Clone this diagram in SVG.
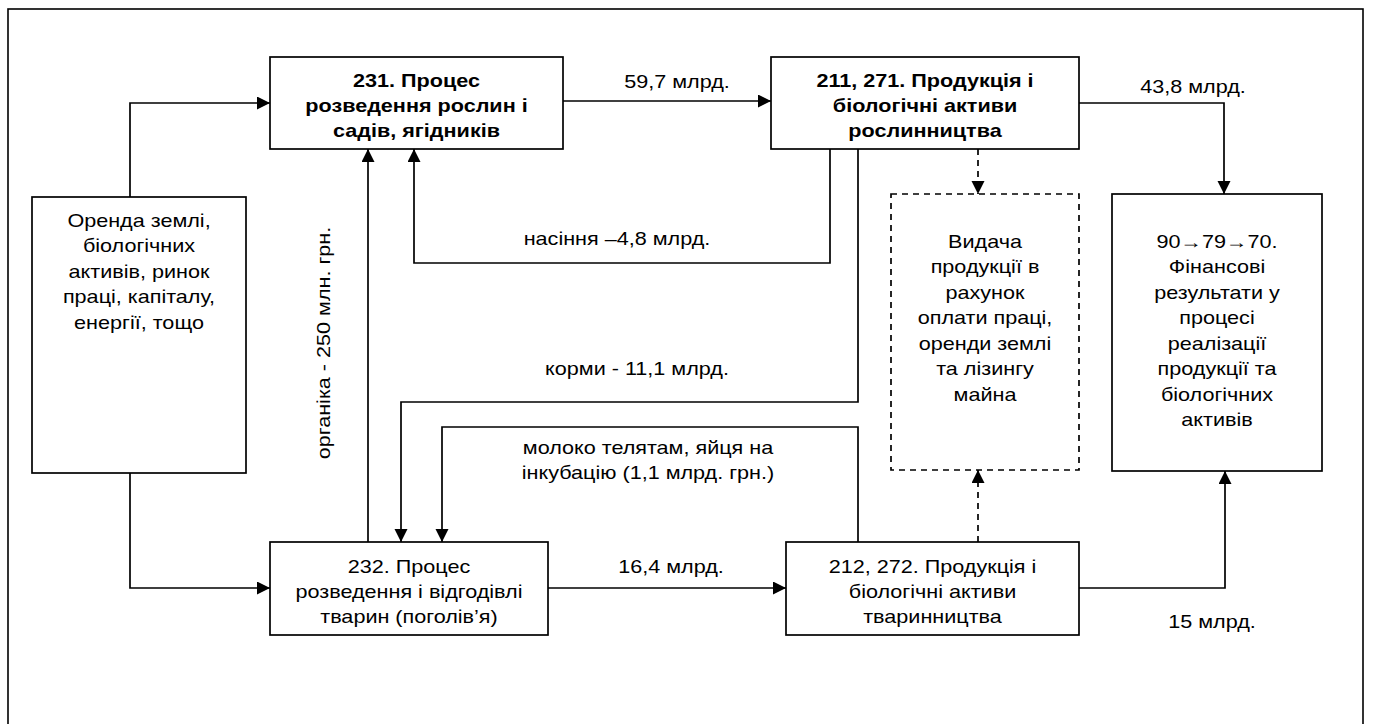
<svg xmlns="http://www.w3.org/2000/svg" width="1373" height="724" viewBox="0 0 1373 724">
<defs>
<style>
.box{fill:#fff;stroke:#000;stroke-width:1.7}
.dbox{fill:#fff;stroke:#000;stroke-width:1.7;stroke-dasharray:6 5}
.c{fill:none;stroke:#000;stroke-width:1.7}
.cd{fill:none;stroke:#000;stroke-width:1.7;stroke-dasharray:6 5}
.t{font-family:"Liberation Sans",Arial,sans-serif;font-size:18px;fill:#000;text-anchor:middle}
.b{font-weight:bold}
</style>
<marker id="ah" markerUnits="userSpaceOnUse" markerWidth="14" markerHeight="14" refX="13" refY="6.5" orient="auto" viewBox="0 0 14 14">
<path d="M0,0 L13,6.5 L0,13 z" fill="#000"/>
</marker>
</defs>
<rect x="0" y="0" width="1373" height="724" fill="#fff"/>
<rect x="8" y="9" width="1355" height="740" fill="none" stroke="#000" stroke-width="1.6"/>

<g id="connectors">
<path class="c" d="M130,197 V103 H270" marker-end="url(#ah)"/>
<path class="c" d="M130,473 V588 H270" marker-end="url(#ah)"/>
<path class="c" d="M563,101 H771" marker-end="url(#ah)"/>
<path class="c" d="M548,588 H786" marker-end="url(#ah)"/>
<path class="c" d="M1079,103 H1224 V194" marker-end="url(#ah)"/>
<path class="c" d="M1079,588 H1225 V471" marker-end="url(#ah)"/>
<path class="c" d="M830,149 V263 H414 V149" marker-end="url(#ah)"/>
<path class="c" d="M368,542 V149" marker-end="url(#ah)"/>
<path class="c" d="M858,149 V402 H401 V542" marker-end="url(#ah)"/>
<path class="c" d="M858,542 V427 H442 V542" marker-end="url(#ah)"/>
<path class="cd" d="M978,149 V194" marker-end="url(#ah)"/>
<path class="cd" d="M978,542 V470" marker-end="url(#ah)"/>
<text class="t" transform="matrix(1.2 0 0 1 677 0)"><tspan x="0" y="88">59,7 млрд.</tspan></text>
<text class="t" transform="matrix(1.2 0 0 1 1193 0)"><tspan x="0" y="93">43,8 млрд.</tspan></text>
<text class="t" transform="matrix(1.2 0 0 1 617 0)"><tspan x="0" y="245">насіння –4,8 млрд.</tspan></text>
<text class="t" transform="matrix(1.2 0 0 1 637 0)"><tspan x="0" y="375">корми - 11,1 млрд.</tspan></text>
<text class="t" transform="matrix(1.2 0 0 1 648 0)"><tspan x="0" y="454">молоко телятам, яйця на</tspan><tspan x="0" y="479">інкубацію (1,1 млрд. грн.)</tspan></text>
<text class="t" transform="matrix(1.2 0 0 1 671 0)"><tspan x="0" y="573">16,4 млрд.</tspan></text>
<text class="t" transform="matrix(1.2 0 0 1 1212 0)"><tspan x="0" y="628">15 млрд.</tspan></text>
<text class="t" transform="translate(330,343) rotate(-90) scale(1.2,1)"><tspan x="0" y="0">органіка - 250 млн. грн.</tspan></text>
</g>

<g id="n_left">
<rect class="box" x="32" y="197" width="214" height="276"/>
<text class="t" transform="matrix(1.2 0 0 1 139 0)"><tspan x="0" y="227">Оренда землі,</tspan><tspan x="0" y="252.5">біологічних</tspan><tspan x="0" y="278">активів, ринок</tspan><tspan x="0" y="303.5">праці, капіталу,</tspan><tspan x="0" y="329">енергії, тощо</tspan></text>
</g>

<g id="n231">
<rect class="box" x="270" y="57" width="293" height="92"/>
<text class="t b" transform="matrix(1.2 0 0 1 416.5 0)"><tspan x="0" y="87">231. Процес</tspan><tspan x="0" y="112">розведення рослин і</tspan><tspan x="0" y="137">садів, ягідників</tspan></text>
</g>

<g id="n211">
<rect class="box" x="771" y="57" width="308" height="92"/>
<text class="t b" transform="matrix(1.2 0 0 1 925 0)"><tspan x="0" y="87">211, 271. Продукція і</tspan><tspan x="0" y="112">біологічні активи</tspan><tspan x="0" y="137">рослинництва</tspan></text>
</g>

<g id="n232">
<rect class="box" x="270" y="542" width="278" height="93"/>
<text class="t" transform="matrix(1.2 0 0 1 409 0)"><tspan x="0" y="573">232. Процес</tspan><tspan x="0" y="598">розведення і відгодівлі</tspan><tspan x="0" y="623">тварин (поголів’я)</tspan></text>
</g>

<g id="n212">
<rect class="box" x="786" y="542" width="293" height="93"/>
<text class="t" transform="matrix(1.2 0 0 1 932.5 0)"><tspan x="0" y="573">212, 272. Продукція і</tspan><tspan x="0" y="598">біологічні активи</tspan><tspan x="0" y="623">тваринництва</tspan></text>
</g>

<g id="n_pay">
<rect class="dbox" x="891" y="194" width="188" height="276"/>
<text class="t" transform="matrix(1.2 0 0 1 985 0)"><tspan x="0" y="248">Видача</tspan><tspan x="0" y="273.5">продукції в</tspan><tspan x="0" y="299">рахунок</tspan><tspan x="0" y="324.5">оплати праці,</tspan><tspan x="0" y="350">оренди землі</tspan><tspan x="0" y="375.5">та лізингу</tspan><tspan x="0" y="401">майна</tspan></text>
</g>

<g id="n_fin">
<rect class="box" x="1112" y="194" width="210" height="277"/>
<text class="t" transform="matrix(1.2 0 0 1 1217 0)"><tspan x="0" y="248">90→79→70.</tspan><tspan x="0" y="273.5">Фінансові</tspan><tspan x="0" y="299">результати у</tspan><tspan x="0" y="324.5">процесі</tspan><tspan x="0" y="350">реалізації</tspan><tspan x="0" y="375.5">продукції та</tspan><tspan x="0" y="401">біологічних</tspan><tspan x="0" y="426.5">активів</tspan></text>
</g>
</svg>
